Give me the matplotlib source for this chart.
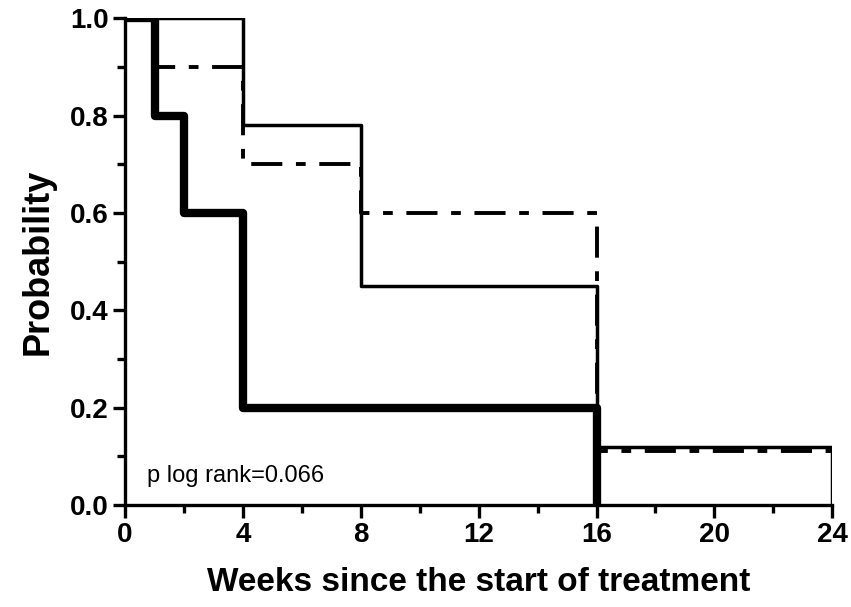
import matplotlib
matplotlib.use("Agg")
import matplotlib.pyplot as plt
from matplotlib.ticker import MultipleLocator, FormatStrFormatter

# step times (weeks) and survival probabilities for each group
thin_t = [0, 4, 8, 16, 24, 24]
thin_p = [1.0, 0.78, 0.45, 0.12, 0.12, 0.0]

dash_t = [0, 1, 4, 8, 16, 24]
dash_p = [1.0, 0.9, 0.7, 0.6, 0.11, 0.11]

thick_t = [0, 1, 2, 4, 16]
thick_p = [1.0, 0.8, 0.6, 0.2, 0.0]

plt.rcParams["font.family"] = ["Liberation Sans", "DejaVu Sans"]

fig = plt.figure(figsize=(8.51, 6.07), dpi=100, facecolor="white")
ax = fig.add_axes([0.147, 0.168, 0.831, 0.802])

ax.step(dash_t, dash_p, where="post", color="black", lw=2.8,
        dashes=(8, 3.5, 2.5, 3.5), solid_capstyle="butt")
ax.step(thin_t, thin_p, where="post", color="black", lw=2.5)
ax.step(thick_t, thick_p, where="post", color="black", lw=6.0)

ax.text(0.75, 0.06, "p log rank=0.066", fontsize=17, ha="left", va="center")

ax.set_xlim(0, 24)
ax.set_ylim(0, 1.0)
ax.xaxis.set_major_locator(MultipleLocator(4))
ax.xaxis.set_minor_locator(MultipleLocator(2))
ax.yaxis.set_major_locator(MultipleLocator(0.2))
ax.yaxis.set_minor_locator(MultipleLocator(0.1))
ax.yaxis.set_major_formatter(FormatStrFormatter("%.1f"))

for side in ("top", "right"):
    ax.spines[side].set_visible(False)
for side in ("left", "bottom"):
    ax.spines[side].set_linewidth(2.4)
ax.tick_params(which="major", length=9, width=2.4, direction="out",
               labelsize=20, pad=3)
ax.tick_params(which="minor", length=6, width=2.4, direction="out")
for lab in ax.get_xticklabels() + ax.get_yticklabels():
    lab.set_fontweight("bold")

ax.set_ylabel("Probability", fontsize=26, fontweight="bold", labelpad=10)
ax.set_xlabel("Weeks since the start of treatment", fontsize=24,
              fontweight="bold", labelpad=14)

fig.savefig("out.png", dpi=100, facecolor="white")
